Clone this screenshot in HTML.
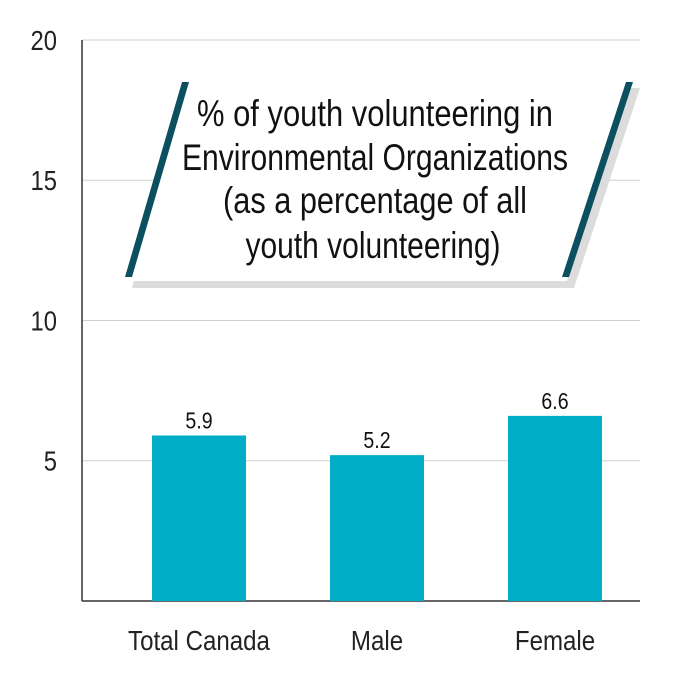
<!DOCTYPE html>
<html><head><meta charset="utf-8"><style>
html,body{margin:0;padding:0;background:#fff;}
svg{display:block;font-family:"Liberation Sans",sans-serif;}
</style></head><body>
<svg id="chart" width="700" height="680" viewBox="0 0 700 680">
<g id="grid"></g>
<g id="bars"></g>
<g id="title-box">
  <polygon points="190,88 640,88 574,288 132,288" fill="#dcdcdc"/>
  <polygon points="183,82 633,82 567,281 125,281" fill="#fff"/>
  <polygon points="182,82 189,82 132,277 125,277" fill="#0c4f5e"/>
  <polygon points="626,82 633,82 569,277 562,277" fill="#0c4f5e"/>
  <g font-size="37" fill="#111" text-anchor="middle">
    <text x="375" y="126" textLength="356" lengthAdjust="spacingAndGlyphs">% of youth volunteering in</text>
    <text x="375" y="170" textLength="386" lengthAdjust="spacingAndGlyphs">Environmental Organizations</text>
    <text x="375" y="213" textLength="304" lengthAdjust="spacingAndGlyphs">(as a percentage of all</text>
    <text x="373" y="258" textLength="255" lengthAdjust="spacingAndGlyphs">youth volunteering)</text>
  </g>
</g>
</svg>
<script>
const categories = ["Total Canada","Male","Female"];
const values = [5.9, 5.2, 6.6];
const valueLabels = ["5.9","5.2","6.6"];
const yTicks = [5,10,15,20];
const tickLabels = ["5","10","15","20"];
const NS="http://www.w3.org/2000/svg";
const y = v => 601 - v*28.05;
const xCenter = i => 199 + i*178;
function mk(tag, attrs, parent){const e=document.createElementNS(NS,tag);for(const k in attrs)e.setAttribute(k,attrs[k]);parent.appendChild(e);return e;}
const grid=document.getElementById('grid'), bars=document.getElementById('bars');
yTicks.forEach((t,i)=>{
  const l=mk('line',{x1:82,x2:640,y1:y(t),y2:y(t),stroke:'#d0d0d0','stroke-width':1},grid);
  
  
  const tx=mk('text',{x:57,y:y(t)+10,'font-size':28,'text-anchor':'end',fill:'#222',transform:`translate(57,0) scale(0.85,1) translate(-57,0)`},grid);
  tx.textContent=tickLabels[i];
  
  
});
const ya=mk('line',{x1:82,x2:82,y1:40,y2:601,stroke:'#333','stroke-width':1.5},grid);


const xa=mk('line',{x1:82,x2:640,y1:601,y2:601,stroke:'#333','stroke-width':1.5},grid);


categories.forEach((c,i)=>{
  const cx=xCenter(i);
  const r=mk('rect',{x:cx-47,y:y(values[i]),width:94,height:601-y(values[i]),fill:'#00adc6'},bars);
  
  
  const vl=mk('text',{x:cx,y:y(values[i])-7,'font-size':23,'text-anchor':'middle',fill:'#111',transform:`translate(${cx},0) scale(0.85,1) translate(${-cx},0)`},bars);
  vl.textContent=valueLabels[i];
  
  
  const cl=mk('text',{x:cx,y:650,'font-size':28,'text-anchor':'middle',fill:'#222',transform:`translate(${cx},0) scale(0.86,1) translate(${-cx},0)`},bars);
  cl.textContent=c;
  
  
});
</script>
</body></html>
